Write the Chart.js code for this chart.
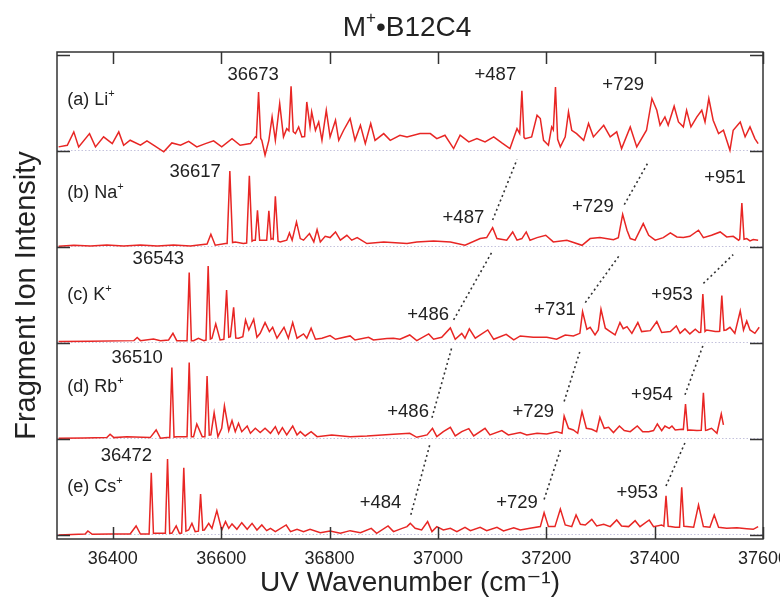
<!DOCTYPE html>
<html>
<head>
<meta charset="utf-8">
<title>M+ B12C4 UV spectra</title>
<script src="https://cdn.jsdelivr.net/npm/chart.js@4.4.1/dist/chart.umd.min.js"></script>
<style>
    body { margin: 0; background: #ffffff; }
    #chart { display: block; }
</style>
</head>
<body>
<canvas id="chart" width="780" height="605"></canvas>
<script>
// [wavenumber (cm-1), intensity in % of the panel spacing]
const liSpectrum = [[36300,4.2],[36316,5.9],[36328,19.8],[36337,4.2],[36357,18],[36368,4.2],[36383,14.6],[36399,7.6],[36411,19.8],[36420,5.9],[36432,11.1],[36451,5.9],[36463,10.4],[36478,4.9],[36494,-1],[36509,8.3],[36525,5.9],[36540,10],[36555,4.2],[36571,7.6],[36586,10.4],[36601,4.2],[36620,12.8],[36635,5.9],[36654,7.6],[36663,14.6],[36665,14],[36669,61.4],[36673,13],[36675,11],[36681,-4.5],[36688,11],[36694,35.4],[36700,11],[36708,49.3],[36715,14.6],[36721,23.2],[36725,21],[36729,67.3],[36733,20],[36737,18],[36743,25],[36749,14.6],[36754,15],[36758,51],[36764,25],[36767,40.6],[36774,21.5],[36780,30.2],[36786,11],[36794,42.3],[36801,14.6],[36811,32],[36817,11],[36826,21.5],[36838,33.7],[36847,11],[36857,26.7],[36866,7.6],[36876,28.5],[36884,11],[36900,18],[36912,11],[36930,16.3],[36943,14.6],[36967,18],[36986,18],[36998,12.8],[37013,16.3],[37029,2.4],[37041,16.3],[37057,9.4],[37072,12.8],[37087,9.4],[37103,14.6],[37118,8.3],[37133,2.4],[37146,23.2],[37151,18],[37155,62.5],[37159,14],[37161,12.8],[37173,14.6],[37183,37.1],[37189,33.7],[37195,11],[37204,5.9],[37210,25],[37213,22],[37217,66.6],[37221,12],[37226,4.2],[37235,14.6],[37241,40.6],[37247,21.5],[37256,18],[37269,11],[37278,28.5],[37287,14.6],[37306,26.7],[37318,14.6],[37330,19.8],[37339,2.4],[37355,25],[37367,4.2],[37385,21.5],[37395,54.5],[37404,42.3],[37410,26.7],[37419,35.4],[37425,26.7],[37436,46.5],[37444,30.2],[37453,25],[37459,42.3],[37467,25],[37478,35.4],[37487,42.3],[37493,30.2],[37500,54.5],[37508,31.9],[37518,18],[37527,21.5],[37539,0.7],[37545,21.5],[37558,30.2],[37567,14.6],[37576,25],[37585,12.8],[37591,7.6]];

const naSpectrum = [[36300,0.7],[36328,1.7],[36359,1],[36389,2],[36420,1],[36451,2],[36482,1],[36512,2],[36543,1],[36574,3],[36581,13.2],[36589,1.7],[36608,3.5],[36611,3.5],[36616,79],[36621,4.5],[36626,5.2],[36641,3.5],[36647,4],[36652,74],[36657,6],[36660,7],[36663,7],[36667,38.2],[36671,7],[36675,7],[36681,7],[36684,7],[36688,37.5],[36692,8],[36694,8.7],[36696,8],[36700,52.7],[36705,6],[36709,5.2],[36721,7],[36726,14.6],[36731,7],[36739,26],[36746,8.7],[36752,7],[36763,13.9],[36771,5.2],[36777,18],[36783,5.2],[36792,11],[36801,9.7],[36811,15.6],[36820,7],[36832,12.1],[36841,7],[36851,9.7],[36869,3.5],[36900,5.2],[36943,3.5],[36961,5.2],[36992,6.2],[37023,5.2],[37050,1.7],[37078,8.7],[37090,9.7],[37101,20],[37109,8.7],[37127,7],[37138,15.6],[37146,7],[37155,8.7],[37163,15.6],[37170,7],[37183,9.7],[37199,12.1],[37213,5.2],[37238,7],[37266,1.7],[37281,8.7],[37299,9.7],[37324,7.6],[37333,9.7],[37341,34],[37349,17.4],[37355,8.7],[37364,7],[37379,24.3],[37389,12.1],[37401,7],[37416,9.7],[37429,14.6],[37441,10.4],[37453,9.7],[37465,11],[37481,17.4],[37490,9.7],[37505,12.1],[37521,15.6],[37533,10.4],[37545,11],[37555,7],[37557,8],[37561,45.8],[37565,8],[37570,8.7],[37576,6.2],[37582,7.6],[37591,7]];

const kSpectrum = [[36300,1.4],[36359,1.7],[36439,2.4],[36445,5.6],[36451,2.4],[36475,4.2],[36488,2.4],[36503,3.1],[36511,10],[36518,2.4],[36534,2.4],[36537,2.4],[36541,73.2],[36545,2.4],[36549,2.4],[36558,4.9],[36568,2.4],[36572,3],[36576,80.2],[36580,4],[36583,4.9],[36590,19.8],[36598,3.1],[36605,3.8],[36610,55.2],[36614,6],[36617,6.6],[36623,37.1],[36627,5],[36632,4.9],[36640,6.6],[36645,24],[36651,13.5],[36660,24.6],[36666,5.9],[36672,10],[36681,21.2],[36689,11.8],[36695,16.3],[36703,4.9],[36716,16.3],[36724,4.9],[36732,21.2],[36740,4.9],[36752,9.4],[36758,4.9],[36766,15.3],[36774,3.8],[36786,4.9],[36801,7.6],[36811,3.8],[36838,7.3],[36847,3.1],[36872,5.9],[36881,3.1],[36906,4.5],[36918,4.9],[36930,3.8],[36948,8.3],[36961,2.4],[36983,9.4],[36992,3.8],[37007,5.9],[37023,15.6],[37032,3.8],[37044,10],[37050,4.9],[37058,14.6],[37069,4.9],[37092,13.5],[37103,3.8],[37126,9],[37140,3.1],[37152,7.3],[37176,5.9],[37201,5.9],[37219,3.8],[37235,8.3],[37250,7.3],[37262,10],[37267,32.6],[37275,14.2],[37281,16.3],[37290,8.3],[37296,13.5],[37301,35],[37309,15.3],[37318,11.8],[37327,8.3],[37336,21.2],[37342,14.9],[37349,17],[37358,10],[37369,21.2],[37376,11.8],[37392,12.8],[37404,22.2],[37413,10.8],[37429,11.8],[37440,17.7],[37447,10],[37456,14.6],[37465,9.4],[37475,14.2],[37482,10.8],[37485,11],[37489,51],[37493,12],[37496,13.5],[37512,11.8],[37518,11.8],[37520,12],[37524,49.3],[37528,13],[37532,13.5],[37539,16.3],[37548,10],[37558,33.3],[37564,13.5],[37570,22.9],[37576,13.5],[37585,10],[37593,16.3]];

const rbSpectrum = [[36300,0.7],[36346,1],[36389,1.4],[36395,4.9],[36402,1.4],[36426,2.4],[36469,1.4],[36480,9.4],[36488,0.7],[36500,1.4],[36505,1.4],[36509,74.3],[36513,2],[36518,2.4],[36528,2.4],[36537,2.4],[36541,79.5],[36545,2.4],[36549,2.4],[36555,15.6],[36565,2.4],[36570,2.4],[36574,65.6],[36578,4],[36581,4.2],[36587,27.4],[36594,2.4],[36601,11.1],[36606,34.4],[36614,8.7],[36620,19.1],[36626,7.6],[36632,16.3],[36638,7.6],[36648,13.5],[36654,5.9],[36663,11.1],[36672,6.6],[36681,11.1],[36691,5.9],[36700,12.8],[36706,5.2],[36713,11.8],[36721,4.2],[36732,13.5],[36740,4.2],[36746,7.6],[36755,3.1],[36766,7.6],[36777,2.4],[36804,4.2],[36838,2.4],[36869,3.1],[36918,4.9],[36948,5.9],[36961,1.7],[36980,4.2],[36990,11.1],[36998,2.4],[37010,7.6],[37023,12.1],[37032,3.1],[37044,7.6],[37057,10.8],[37066,3.1],[37087,11.1],[37096,4.2],[37118,8.7],[37130,4.2],[37152,6.6],[37164,4.2],[37183,5.9],[37201,5.2],[37219,7.6],[37229,5.9],[37233,24],[37241,11.1],[37250,9.4],[37258,5.9],[37266,28.5],[37274,11.1],[37284,10.1],[37293,7.6],[37299,22.6],[37307,11.1],[37315,12.1],[37324,6.6],[37335,13.5],[37344,8.7],[37355,7.6],[37368,13.5],[37378,7.6],[37389,7.6],[37398,8.7],[37405,15.6],[37413,8.7],[37419,13.5],[37427,11.1],[37432,13.5],[37438,9.4],[37450,10.1],[37453,10],[37457,36.4],[37461,9],[37465,9.4],[37478,8.7],[37486,9],[37490,48.2],[37494,9],[37497,9.4],[37505,11.1],[37515,5.9],[37523,26],[37527,14.6]];

const csSpectrum = [[36300,0],[36349,1],[36354,4.2],[36362,0.7],[36395,1],[36432,1],[36443,9.4],[36451,1],[36463,1],[36467,1],[36471,64.9],[36475,1.5],[36478,1.7],[36493,1.7],[36497,1.7],[36501,79.1],[36505,1.7],[36509,1.7],[36517,9.4],[36523,1.7],[36527,2],[36531,70.1],[36535,4],[36540,5.2],[36546,12.1],[36552,3.5],[36558,4],[36562,42.7],[36566,5],[36569,5.2],[36577,12.1],[36583,6.9],[36592,25.3],[36601,5.2],[36608,13.9],[36614,6.9],[36620,11.5],[36629,5.9],[36638,12.8],[36648,5.9],[36657,12.1],[36666,5.2],[36675,10.4],[36684,4.5],[36691,6.9],[36700,3.5],[36720,10.4],[36728,3.5],[36740,5.9],[36752,3.5],[36764,5.9],[36783,2.4],[36801,4.2],[36820,1.7],[36838,4.5],[36857,2.4],[36877,6.9],[36887,1.7],[36908,9.4],[36918,3.5],[36934,6.9],[36943,8.7],[36949,12.1],[36958,6.9],[36970,5.2],[36981,13.9],[36989,3.5],[36998,8.7],[37010,5.2],[37023,6.9],[37035,3.5],[37050,8],[37060,4.5],[37078,8],[37090,4.5],[37109,8],[37121,4.2],[37140,7.6],[37152,5.2],[37170,6.9],[37189,8.7],[37196,23.2],[37204,8.7],[37216,8.7],[37226,27.1],[37235,10.4],[37247,8.7],[37255,20.8],[37263,11.1],[37272,10.4],[37284,16.3],[37293,9.4],[37306,11.1],[37318,8.7],[37330,15.6],[37339,9.4],[37352,8.7],[37364,14.9],[37373,8.7],[37390,15.6],[37398,8.7],[37413,10.4],[37417,9],[37421,40.9],[37425,9],[37429,8.7],[37438,8],[37446,8],[37450,49.6],[37454,9],[37459,8.7],[37472,8],[37481,31.2],[37490,8.7],[37502,8],[37510,20.8],[37518,8],[37533,6.9],[37552,7.6],[37570,6.6],[37582,5.9],[37591,8.7]];

const panelNames = ["(a) Li", "(b) Na", "(c) K", "(d) Rb", "(e) Cs"];
const spectra = [liSpectrum, naSpectrum, kSpectrum, rbSpectrum, csSpectrum];
const panelOffsets = [4, 3, 2, 1, 0];
const xTicks = [36400, 36600, 36800, 37000, 37200, 37400, 37600];
const yTicks = [0, 1, 2, 3, 4, 5];

// [text, wavenumber, stacked y]
const peakLabels = [
    ["36673", 36659, 4.79], ["+487", 37106, 4.79], ["+729", 37342, 4.69],
    ["36617", 36552, 3.78], ["+487", 37047, 3.30], ["+729", 37286, 3.42], ["+951", 37530, 3.72],
    ["36543", 36484, 2.87], ["+486", 36982, 2.29], ["+731", 37216, 2.34], ["+953", 37432, 2.50],
    ["36510", 36445, 1.84], ["+486", 36945, 1.28], ["+729", 37176, 1.28], ["+954", 37395, 1.46],
    ["36472", 36425, 0.82], ["+484", 36894, 0.33], ["+729", 37146, 0.33], ["+953", 37368, 0.44]
];
const panelLabelY = [4.53, 3.56, 2.50, 1.54, 0.50];

// dotted progression lines [w1, y1, w2, y2]
const connectors = [
    [37101, 3.28, 37146, 3.91], [37344, 3.44, 37387, 3.87],
    [37029, 2.24, 37100, 2.95], [37272, 2.42, 37336, 2.92], [37490, 2.62, 37545, 2.92],
    [36989, 1.22, 37026, 1.96], [37233, 1.39, 37262, 1.91], [37456, 1.46, 37491, 2.00],
    [36950, 0.21, 36986, 0.96], [37196, 0.37, 37227, 0.90], [37421, 0.51, 37456, 0.96]
];

const FONT = '"Liberation Sans", Arial, "DejaVu Sans", sans-serif';
const RED = "rgb(232, 38, 36)";
const INK = "#222222";

// draws text made of normal / superscript parts
function drawRich(ctx, parts, x, y, size, align)
{
    let total = 0;
    const widths = parts.map(p =>
    {
        ctx.font = (p[1] ? Math.round(size * 0.6) : size) + "px " + FONT;
        const w = ctx.measureText(p[0]).width;
        total += w;
        return w;
    });
    let cx = align === "center" ? x - total / 2 : x;
    ctx.textAlign = "left";
    ctx.textBaseline = "middle";
    parts.forEach((p, i) =>
    {
        ctx.font = (p[1] ? Math.round(size * 0.6) : size) + "px " + FONT;
        ctx.fillText(p[0], cx, p[1] ? y - size * 0.33 : y);
        cx += widths[i];
    });
}

const framePlugin =
    {
        id: "frame",
        afterDatasetsDraw(chart)
        {
            const ctx = chart.ctx;
            const area = chart.chartArea;
            const xs = chart.scales.x;
            const ys = chart.scales.y;

            ctx.save();
            ctx.strokeStyle = "#333333";
            ctx.lineWidth = 1.5;
            ctx.strokeRect(area.left, area.top, area.right - area.left, area.bottom - area.top);

            // inward ticks
            ctx.beginPath();
            xTicks.forEach(v =>
            {
                const px = Math.round(xs.getPixelForValue(v)) + 0.5;
                ctx.moveTo(px, area.bottom); ctx.lineTo(px, area.bottom - 12);
                ctx.moveTo(px, area.top); ctx.lineTo(px, area.top + 12);
            });
            yTicks.forEach(v =>
            {
                const py = Math.round(ys.getPixelForValue(v)) + 0.5;
                ctx.moveTo(area.left, py); ctx.lineTo(area.left + 13, py);
                ctx.moveTo(area.right, py); ctx.lineTo(area.right - 13, py);
            });
            ctx.stroke();

            ctx.fillStyle = INK;
            panelNames.forEach((name, i) =>
            {
                drawRich(ctx, [[name, false], ["+", true]], xs.getPixelForValue(36316), ys.getPixelForValue(panelLabelY[i]), 18, "left");
            });
            peakLabels.forEach(l =>
            {
                drawRich(ctx, [[l[0], false]], xs.getPixelForValue(l[1]), ys.getPixelForValue(l[2]), 18.5, "center");
            });

            drawRich(ctx, [["M", false], ["+", true], ["\u2022B12C4", false]], (area.left + area.right) / 2 - 3, area.top - 24, 28, "center");
            ctx.restore();
        }
    };

const datasets = spectra.map((s, i) => (
    {
        data: s.map(p => ({ x: p[0], y: panelOffsets[i] + p[1] / 100 })),
        borderColor: RED,
        borderWidth: 1.5,
        pointRadius: 0,
        tension: 0,
        fill: false
    }));

connectors.forEach(c =>
{
    datasets.push(
        {
            data: [{ x: c[0], y: c[1] }, { x: c[2], y: c[3] }],
            borderColor: "#333333",
            borderWidth: 1.6,
            borderDash: [2, 3],
            pointRadius: 0,
            fill: false
        });
});

new Chart(document.getElementById("chart").getContext("2d"),
    {
        type: "line",
        data: { datasets: datasets },
        options:
            {
                responsive: false,
                animation: false,
                layout: { padding: { top: 52, right: 17, left: 0, bottom: 0 } },
                plugins: { legend: { display: false }, tooltip: { enabled: false }, title: { display: false } },
                scales:
                    {
                        x:
                            {
                                type: "linear",
                                min: 36297,
                                max: 37600,
                                afterBuildTicks: s => { s.ticks = xTicks.map(v => ({ value: v })); },
                                afterFit: s => { s.height = 66; s.paddingLeft = 0; s.paddingRight = 0; },
                                grid: { display: false, drawTicks: false },
                                border: { display: false },
                                ticks:
                                    {
                                        color: INK,
                                        padding: 9,
                                        maxRotation: 0,
                                        autoSkip: false,
                                        font: { family: FONT, size: 18 },
                                        callback: v => String(v)
                                    },
                                title:
                                    {
                                        display: true,
                                        text: "UV Wavenumber (cm\u207B\u00B9)",
                                        color: INK,
                                        padding: { top: 0, bottom: 5 },
                                        font: { family: FONT, size: 28 }
                                    }
                            },
                        y:
                            {
                                type: "linear",
                                min: -0.042,
                                max: 5.03,
                                afterBuildTicks: s => { s.ticks = yTicks.map(v => ({ value: v })); },
                                afterFit: s => { s.width = 57; s.paddingTop = 0; s.paddingBottom = 0; },
                                ticks: { display: false },
                                grid:
                                    {
                                        drawTicks: false,
                                        lineWidth: 1,
                                        color: c => (c.tick && c.tick.value < 5 ? "#c4c2dc" : "rgba(0,0,0,0)")
                                    },
                                border: { display: false, dash: [1.5, 2] },
                                title:
                                    {
                                        display: true,
                                        text: "Fragment Ion Intensity",
                                        color: INK,
                                        padding: { top: 10, bottom: 0 },
                                        font: { family: FONT, size: 29 }
                                    }
                            }
                    }
            },
        plugins: [framePlugin]
    });
</script>
</body>
</html>
